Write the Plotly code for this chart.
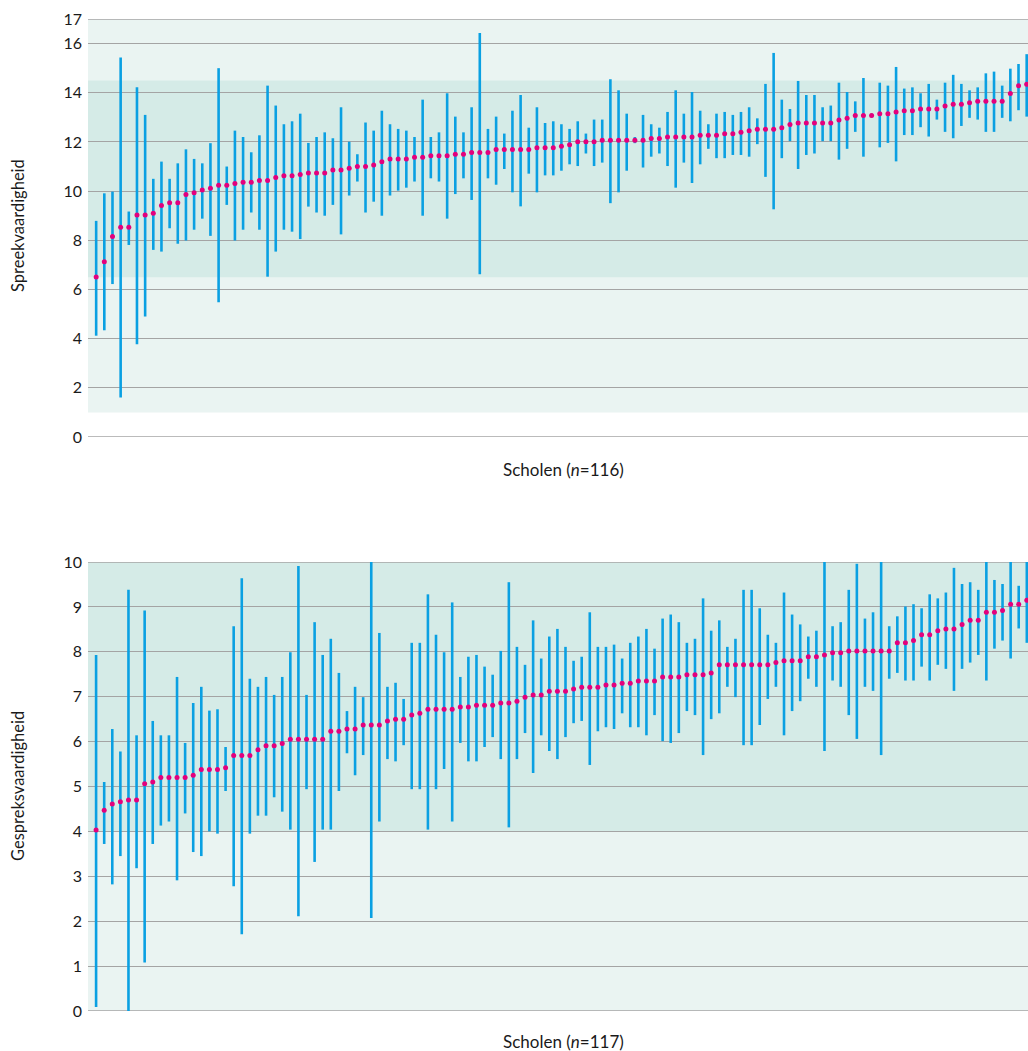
import plotly.graph_objects as go

# ---------------- data: Spreekvaardigheid (n=116) ----------------
spreek_mean = [6.51,7.13,8.15,8.53,8.53,9.03,9.03,9.10,9.41,9.53,
               9.53,9.86,9.93,10.05,10.12,10.24,10.24,10.31,10.36,10.36,
               10.43,10.43,10.55,10.62,10.62,10.68,10.74,10.74,10.74,10.86,
               10.86,10.93,11.00,11.00,11.06,11.19,11.31,11.31,11.31,11.38,
               11.38,11.44,11.44,11.44,11.50,11.50,11.57,11.57,11.57,11.69,
               11.69,11.69,11.69,11.69,11.76,11.76,11.76,11.82,11.89,12.01,
               12.01,12.01,12.07,12.07,12.07,12.07,12.07,12.07,12.14,12.14,
               12.20,12.20,12.20,12.20,12.27,12.27,12.27,12.33,12.33,12.39,
               12.46,12.52,12.52,12.52,12.58,12.71,12.77,12.77,12.77,12.77,
               12.77,12.89,12.96,13.08,13.08,13.08,13.15,13.15,13.22,13.27,
               13.27,13.34,13.34,13.34,13.46,13.53,13.53,13.59,13.65,13.65,
               13.65,13.65,13.97,14.29,14.35,14.40]
spreek_hi = [8.79,9.91,9.98,15.43,9.17,14.22,13.10,10.50,11.20,10.50,
             11.13,11.70,11.31,11.13,11.95,15.00,11.00,12.46,12.20,11.58,
             12.27,14.29,13.48,12.72,12.84,13.15,11.96,12.20,12.39,12.15,
             13.41,12.01,11.50,12.79,12.46,13.27,12.72,12.53,12.46,12.20,
             13.72,12.20,12.39,13.98,13.03,12.39,13.41,16.43,12.53,13.03,
             12.34,13.27,13.91,12.58,13.41,12.77,12.84,12.72,12.53,12.84,
             12.34,12.91,12.91,14.55,14.10,13.15,12.20,13.10,12.72,12.58,
             13.22,14.10,13.15,14.03,13.27,12.72,13.15,13.22,13.10,13.22,
             13.41,12.96,14.36,15.62,13.72,13.34,14.48,13.91,13.91,13.41,
             13.48,14.41,14.03,13.65,14.60,13.15,14.41,14.29,15.05,14.17,
             14.22,13.98,14.36,13.72,14.41,14.73,14.36,14.10,14.22,14.79,
             14.86,14.29,14.98,15.17,15.57,15.40]
spreek_lo = [4.12,4.34,6.22,1.61,7.81,3.77,4.90,7.61,7.54,8.49,
             7.86,7.99,8.43,8.88,8.18,5.48,9.44,7.99,8.43,9.13,
             8.43,6.52,7.54,8.43,8.35,8.05,9.37,9.13,9.00,9.44,
             8.24,9.82,10.39,9.13,9.57,9.00,9.82,10.02,10.14,10.39,
             9.00,10.52,10.39,8.88,9.88,10.52,9.64,6.62,10.52,10.26,
             10.90,9.95,9.38,10.71,9.95,10.64,10.64,10.83,11.09,11.02,
             11.53,11.02,11.16,9.51,9.95,10.83,11.95,10.96,11.40,11.53,
             11.02,10.14,11.16,10.33,11.09,11.72,11.34,11.34,11.47,11.47,
             11.40,11.91,10.58,9.26,11.34,12.03,10.90,11.47,11.53,12.03,
             12.03,11.28,11.72,12.41,11.40,13.00,11.78,11.96,11.21,12.28,
             12.28,12.60,12.22,12.91,12.41,12.15,12.65,12.98,12.91,12.41,
             12.41,12.98,12.84,13.29,13.03,13.30]

# ---------------- data: Gespreksvaardigheid (n=117) ----------------
gesprek_mean = [4.03,4.47,4.61,4.66,4.70,4.70,5.06,5.10,5.20,5.20,
                5.20,5.20,5.25,5.38,5.38,5.38,5.42,5.69,5.69,5.69,
                5.82,5.91,5.91,5.96,6.05,6.05,6.05,6.05,6.05,6.23,
                6.23,6.28,6.28,6.37,6.37,6.37,6.46,6.50,6.50,6.59,
                6.63,6.72,6.72,6.72,6.72,6.77,6.77,6.81,6.81,6.81,
                6.86,6.86,6.90,6.99,7.04,7.04,7.12,7.12,7.12,7.17,
                7.21,7.21,7.21,7.26,7.26,7.30,7.30,7.35,7.35,7.35,
                7.44,7.44,7.44,7.49,7.49,7.49,7.53,7.71,7.71,7.71,
                7.71,7.71,7.71,7.71,7.76,7.80,7.80,7.80,7.89,7.89,
                7.93,7.98,7.98,8.02,8.02,8.02,8.02,8.02,8.02,8.20,
                8.20,8.25,8.38,8.38,8.47,8.51,8.51,8.61,8.70,8.70,
                8.88,8.88,8.92,9.06,9.06,9.15,9.20]
gesprek_hi = [7.93,5.10,6.28,5.78,9.38,6.14,8.92,6.46,6.14,6.14,
              7.44,5.97,6.86,7.22,6.69,6.72,5.88,8.57,9.64,7.40,
              7.22,7.44,7.04,7.44,7.99,9.91,7.04,8.66,7.93,8.29,
              7.53,6.68,7.22,6.99,10.00,8.42,7.22,7.31,6.95,8.20,
              8.20,9.28,8.38,7.99,9.10,7.44,7.89,7.93,7.67,7.49,
              8.02,9.55,8.11,7.71,8.70,7.85,8.34,8.51,8.11,7.80,
              7.89,8.88,8.11,8.11,8.16,7.85,8.20,8.34,8.51,8.07,
              8.74,8.83,8.66,8.20,8.29,9.19,8.47,8.70,8.11,8.29,
              9.38,9.38,8.97,8.38,8.20,9.32,8.83,8.61,8.34,8.47,
              10.00,8.57,8.66,9.38,9.96,8.74,8.88,10.00,8.57,8.79,
              9.01,9.06,8.97,9.28,9.19,9.32,9.87,9.51,9.55,9.38,
              10.00,9.60,9.51,10.00,9.47,10.00,10.00]
gesprek_lo = [0.09,3.72,2.82,3.45,0.00,3.18,1.08,3.72,4.13,4.22,
              2.91,4.40,3.54,3.45,4.00,3.95,4.90,2.78,1.71,3.95,
              4.35,4.35,4.76,4.44,4.04,2.11,4.94,3.32,4.04,4.04,
              4.90,5.74,5.25,5.70,2.07,4.22,5.61,5.56,5.92,4.94,
              4.94,4.04,4.94,5.39,4.22,5.97,5.56,5.56,5.88,6.10,
              5.61,4.09,5.61,6.19,5.30,6.14,5.79,5.61,6.10,6.41,
              6.46,5.48,6.23,6.32,6.28,6.63,6.32,6.32,6.14,6.59,
              6.01,5.97,6.19,6.68,6.59,5.70,6.50,6.63,7.22,6.99,
              5.92,5.92,6.37,6.95,7.22,6.14,6.68,6.90,7.40,7.22,
              5.79,7.36,7.22,6.59,6.06,7.22,7.13,5.70,7.40,7.53,
              7.36,7.36,7.67,7.36,7.71,7.62,7.13,7.62,7.76,7.93,
              7.36,8.07,8.25,7.85,8.52,8.20,8.30]

spreek_ticks = [0, 2, 4, 6, 8, 10, 12, 14, 16, 17]
gesprek_ticks = list(range(0, 11))
spreek_title = "Scholen (<i>n</i>=116)"
gesprek_title = "Scholen (<i>n</i>=117)"

# ---------------- style ----------------
FONT = "Lato"
BAR = "#0aa0e2"
DOT = "#e4007c"
LIGHT = "#eaf4f2"
DARK = "#d5ebe7"
GRID = "#a4a4a4"
W, H = 1028, 1051
L = 88
VIS = (W - L) / 955.0  # the original plot is wider than the window; right side cut off


def panel(mean, hi, lo, xa, ya):
    xs = list(range(1, len(mean) + 1))
    return go.Scatter(
        x=xs, y=mean, mode="markers", xaxis=xa, yaxis=ya,
        marker=dict(color=DOT, size=5, line=dict(width=0)),
        error_y=dict(type="data", symmetric=False,
                     array=[h - m for h, m in zip(hi, mean)],
                     arrayminus=[m - l for m, l in zip(mean, lo)],
                     width=0, thickness=2.6, color=BAR),
        showlegend=False, hoverinfo="skip", cliponaxis=True)


fig = go.Figure()
fig.add_trace(panel(spreek_mean, spreek_hi, spreek_lo, "x", "y"))
fig.add_trace(panel(gesprek_mean, gesprek_hi, gesprek_lo, "x2", "y2"))

top_dom = [1 - 437 / H, 1 - 19 / H]
bot_dom = [1 - 1011 / H, 1 - 562 / H]

tick_font = dict(family=FONT, size=16, color="#1a1a1a")
title_font = dict(family=FONT, size=16.5, color="#1a1a1a")
xtitle_font = dict(family=FONT, size=17, color="#1a1a1a")
common_x = dict(showgrid=False, showticklabels=False, zeroline=False,
                showline=False, ticks="", automargin=False)
common_y = dict(showgrid=True, gridcolor=GRID, gridwidth=1.4, zeroline=False,
                showline=False, ticks="", automargin=False, tickfont=tick_font,
                ticklabelstandoff=5)
fig.update_layout(
    width=W, height=H,
    margin=dict(l=L, r=0, t=0, b=0, autoexpand=False),
    paper_bgcolor="white", plot_bgcolor="white",
    font=title_font,
    xaxis=dict(domain=[0, 1], range=[0, (len(spreek_mean) + 1) * VIS],
               anchor="y", **common_x),
    yaxis=dict(domain=top_dom, range=[0, 17], tickvals=spreek_ticks,
               anchor="x", **common_y),
    xaxis2=dict(domain=[0, 1], range=[0, (len(gesprek_mean) + 1) * VIS],
                anchor="y2", **common_x),
    yaxis2=dict(domain=bot_dom, range=[0, 10], tickvals=gesprek_ticks,
                anchor="x2", **common_y),
)

# background bands
bands = [("y", 1, 17, LIGHT), ("y", 6.5, 14.5, DARK),
         ("y2", 0, 10, LIGHT), ("y2", 4, 10, DARK)]
for yref, y0, y1, col in bands:
    xref = "x domain" if yref == "y" else "x2 domain"
    fig.add_shape(type="rect", xref=xref, yref=yref, x0=0, x1=1, y0=y0, y1=y1,
                  fillcolor=col, line=dict(width=0), layer="below")

# grid lines at the range edges (plotly omits them)
for yref, ticks in (("y", spreek_ticks), ("y2", gesprek_ticks)):
    xref = "x domain" if yref == "y" else "x2 domain"
    for v in (ticks[0], ticks[-1]):
        fig.add_shape(type="line", xref=xref, yref=yref, x0=0, x1=1, y0=v, y1=v,
                      line=dict(color=GRID, width=1.4), layer="below")

# axis titles
fig.add_annotation(text=spreek_title, xref="paper", yref="paper",
                   x=(563 - L) / (W - L), y=1 - 469 / H, showarrow=False,
                   font=xtitle_font, xanchor="center", yanchor="middle")
fig.add_annotation(text=gesprek_title, xref="paper", yref="paper",
                   x=(563 - L) / (W - L), y=1 - 1041 / H, showarrow=False,
                   font=xtitle_font, xanchor="center", yanchor="middle")
fig.add_annotation(text="Spreekvaardigheid", xref="paper", yref="paper",
                   x=(18 - L) / (W - L), y=1 - 226 / H, showarrow=False,
                   textangle=-90, font=title_font, xanchor="center", yanchor="middle")
fig.add_annotation(text="Gespreksvaardigheid", xref="paper", yref="paper",
                   x=(18 - L) / (W - L), y=1 - 786 / H, showarrow=False,
                   textangle=-90, font=title_font, xanchor="center", yanchor="middle")

fig.write_html("out.html", post_script="document.body.style.margin='0';",
               config={"displayModeBar": False})
